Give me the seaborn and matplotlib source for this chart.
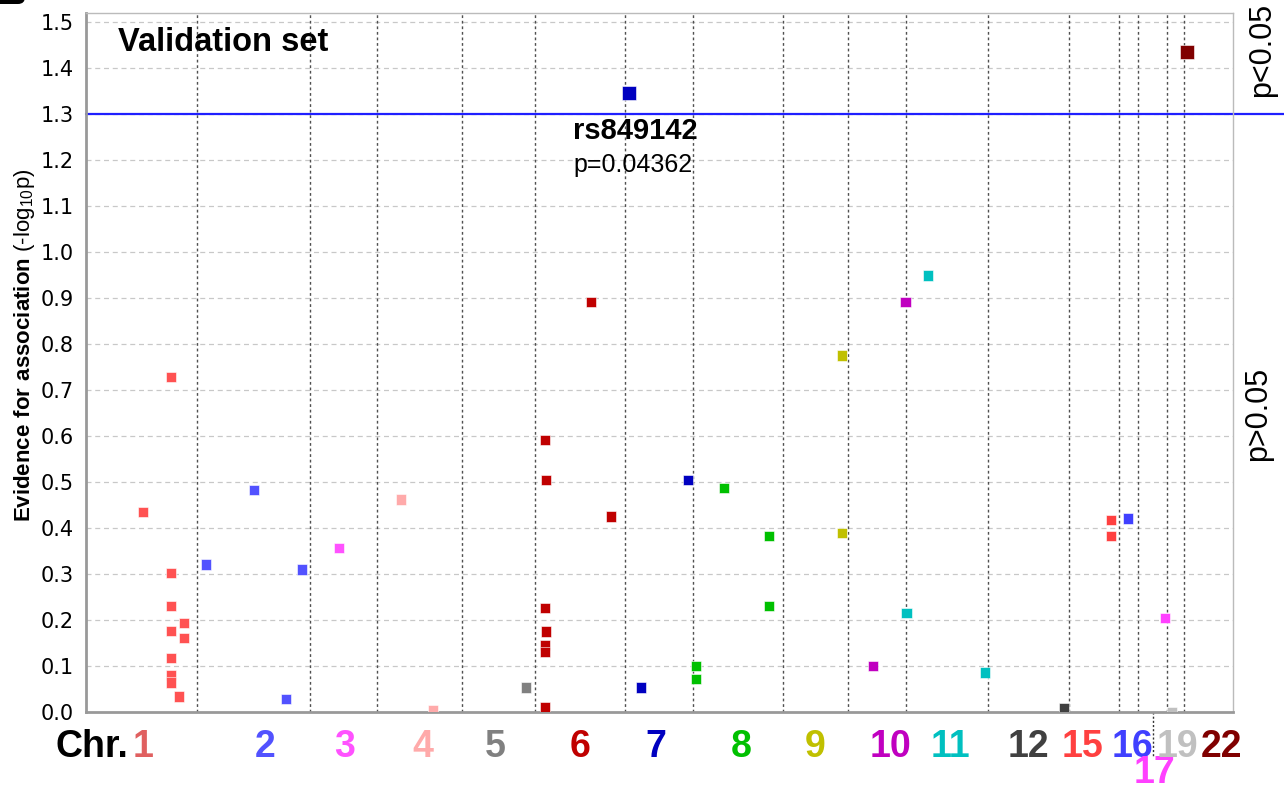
import matplotlib
matplotlib.use("Agg")
import matplotlib.pyplot as plt
from matplotlib.patches import FancyBboxPatch
from matplotlib.transforms import IdentityTransform, blended_transform_factory
import seaborn as sns
import pandas as pd
import numpy as np

# ---------------- data ----------------
chromosomes = ["1", "2", "3", "4", "5", "6", "7", "8", "9", "10", "11", "12",
               "15", "16", "17", "19", "22"]
# relative width of each chromosome block on the x axis
chrom_widths = [111, 113, 67, 85, 73, 90, 68, 90, 65, 58, 82, 81, 50, 19, 29, 17, 49]

point_chrom = (["1"] * 11 + ["2"] * 4 + ["3"] + ["4"] * 2 + ["5"] + ["6"] * 9 +
               ["7"] * 3 + ["8"] * 5 + ["9"] * 2 + ["10"] * 2 + ["11"] * 3 +
               ["12"] + ["15"] * 2 + ["16"] + ["17"] + ["19"] + ["22"])
# position of each SNP inside its chromosome block
point_offset = [57, 85, 85, 85, 85, 98, 98, 85, 85, 85, 93,
                9, 57, 105, 89,
                29,
                24, 56,
                64,
                10, 11, 56, 76, 10, 11, 10, 10, 10,
                4, 16, 63,
                3, 3, 31, 76, 76,
                59, 59,
                25, 57.5,
                0.5, 22, 79,
                76,
                42, 42,
                9,
                27,
                5,
                3]
# -log10(p)
point_value = [0.435, 0.728, 0.302, 0.230, 0.176, 0.193, 0.161, 0.117, 0.080, 0.064, 0.034,
               0.321, 0.483, 0.310, 0.028,
               0.356,
               0.462, 0.004,
               0.053,
               0.591, 0.504, 0.891, 0.425, 0.226, 0.175, 0.145, 0.131, 0.010,
               1.346, 0.053, 0.504,
               0.100, 0.071, 0.487, 0.382, 0.230,
               0.775, 0.389,
               0.100, 0.891,
               0.215, 0.949, 0.086,
               0.009,
               0.418, 0.382,
               0.421,
               0.204,
               0.000,
               1.435]

threshold = -np.log10(0.05)
snp_label = "rs849142"
snp_p = "p=0.04362"

point_colors = {"1": "#FF5252", "2": "#5252FF", "3": "#FF52FF", "4": "#FFAAAA",
                "5": "#808080", "6": "#C00000", "7": "#0000C0", "8": "#00C000",
                "9": "#C0C000", "10": "#C000C0", "11": "#00C0C0", "12": "#404040",
                "15": "#FF4040", "16": "#4040FF", "17": "#FF40FF", "19": "#C0C0C0",
                "22": "#800000"}
label_colors = dict(point_colors)
label_colors["1"] = "#E06060"

# ---------------- layout ----------------
W, H = 1284, 792
starts = np.concatenate([[0], np.cumsum(chrom_widths)[:-1]])
start_of = dict(zip(chromosomes, starts))
total = float(np.sum(chrom_widths))

df = pd.DataFrame({"chrom": point_chrom, "offset": point_offset, "value": point_value})
df["pos"] = [start_of[c] + o for c, o in zip(df["chrom"], df["offset"])]
df["highlight"] = df["value"] > threshold

sns.set_style("white")
plt.rcParams["font.family"] = ["DejaVu Sans"]
plt.rcParams["text.color"] = "black"
plt.rcParams["mathtext.fontset"] = "custom"
plt.rcParams["mathtext.rm"] = "Liberation Sans"
plt.rcParams["mathtext.bf"] = "Liberation Sans:bold"

fig = plt.figure(figsize=(W / 100, H / 100), dpi=100)
ax_l, ax_b, ax_w, ax_h = 86, 80, 1147, 699
ax = fig.add_axes([ax_l / W, ax_b / H, ax_w / W, ax_h / H])

ax.set_xlim(0, total)
ax.set_ylim(0, 1.52)

# horizontal grid
yt = np.round(np.arange(0, 1.51, 0.1), 1)
for y in yt[1:]:
    ax.axhline(y, color="#C8C8C8", lw=0.9, ls=(0, (4, 3)), zorder=0)
# chromosome boundaries
for b in np.cumsum(chrom_widths)[:-1]:
    ax.axvline(b, color="#505050", lw=1.0, ls=(0, (2, 2)), zorder=1)

# significance line extending to the right edge of the figure
ax.plot([0, (W - ax_l) / ax_w], [threshold, threshold], color="#1F1FFF", lw=1.6,
        transform=blended_transform_factory(ax.transAxes, ax.transData),
        clip_on=False, zorder=2)

sns.scatterplot(data=df[~df["highlight"]], x="pos", y="value", hue="chrom",
                palette=point_colors, hue_order=chromosomes, marker="s", s=55,
                linewidth=0.4, edgecolor="white", legend=False, ax=ax, zorder=3)
sns.scatterplot(data=df[df["highlight"]], x="pos", y="value", hue="chrom",
                palette=point_colors, hue_order=chromosomes, marker="s", s=95,
                linewidth=0.4, edgecolor="white", legend=False, ax=ax, zorder=3)

ax.set_xlabel("")
ax.set_ylabel("")
ax.set_xticks([])
ax.set_yticks(yt)
ax.set_yticklabels([f"{v:.1f}" for v in yt])
ax.tick_params(axis="y", length=0, pad=9, labelsize=15, labelcolor="black")

for side in ["top", "right"]:
    ax.spines[side].set_color("#BBBBBB")
    ax.spines[side].set_linewidth(1.0)
for side in ["left", "bottom"]:
    ax.spines[side].set_color("#999999")
    ax.spines[side].set_linewidth(2.0)

# titles / annotations
ax.text((118 - ax_l) / ax_w, 1.438, "Validation set",
        transform=blended_transform_factory(ax.transAxes, ax.transData),
        fontsize=23.5, fontweight="bold", family="Liberation Sans", ha="left", va="baseline")
hl = df[df["highlight"] & (df["chrom"] == "7")].iloc[0]
ax.text(hl["pos"] + 6, 1.245, snp_label, fontsize=21, fontweight="bold",
        family="Liberation Sans", ha="center", va="baseline")
ax.text(hl["pos"] + 4, 1.175, snp_p, fontsize=18, family="Liberation Sans",
        ha="center", va="baseline")

fig.text(25 / W, 1 - 345 / H,
         r"$\mathbf{Evidence\ for\ association}$ (-log$_{10}$p)",
         rotation=90, ha="center", va="center", fontsize=16, family="Liberation Sans")

fig.text(1262 / W, 1 - 50 / H, "p<0.05", rotation=90, ha="center", va="center",
         fontsize=22, family="Liberation Sans")
fig.text(1258 / W, 1 - 414 / H, "p>0.05", rotation=90, ha="center", va="center",
         fontsize=22, family="Liberation Sans")

# chromosome labels under the axis
label_x = [57, 179, 259, 337, 409, 494, 570, 655, 729, 804, 864, 942, 997, 1046, 1069, 1091, 1136]
trans = blended_transform_factory(ax.transData, fig.transFigure)
for c, lx in zip(chromosomes, label_x):
    yb = 1 - 757 / H
    if c == "17":
        yb = 1 - 783 / H
    fig.text(lx, yb, c, transform=trans, color=label_colors[c], fontsize=27,
             fontweight="bold", family="Liberation Sans", ha="center", va="baseline")
fig.text(128 / W, 1 - 757 / H, "Chr.", fontsize=27, fontweight="bold", color="black",
         family="Liberation Sans", ha="right", va="baseline")
# pointer for chromosome 17
mid17 = start_of["17"] + chrom_widths[chromosomes.index("17")] / 2
ax.plot([mid17, mid17], [0, -45 / ax_h], color="#333333", lw=1.0, ls=(0, (1.5, 1.5)),
        transform=blended_transform_factory(ax.transData, ax.transAxes), clip_on=False)

# panel label corner
fig.patches.append(FancyBboxPatch((-20, H - 4), 45, 30, boxstyle="round,pad=0,rounding_size=7",
                                  transform=IdentityTransform(), facecolor="black",
                                  edgecolor="none", figure=fig))

fig.savefig("out.png", dpi=100)
